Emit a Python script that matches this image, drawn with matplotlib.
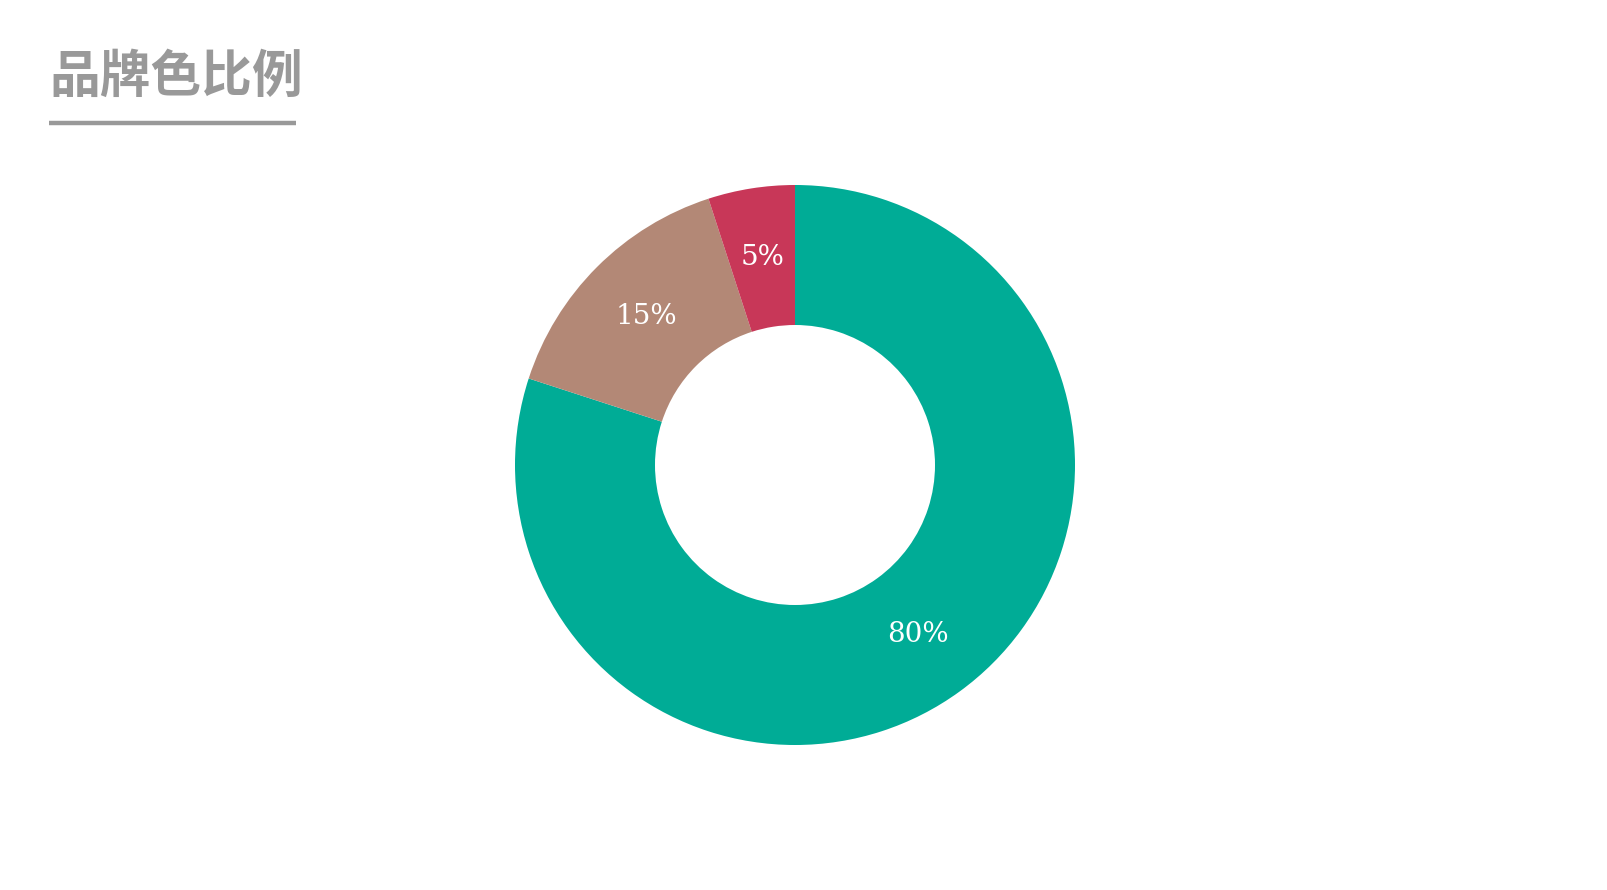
import matplotlib
matplotlib.use("Agg")
import matplotlib.pyplot as plt
from matplotlib.lines import Line2D

# data
labels = ["主色", "辅助色", "点缀色"]
shares = [80, 15, 5]
colors = ["#00AC96", "#B38876", "#C83758"]
title = "品牌色比例"

W, H = 1608, 890
fig = plt.figure(figsize=(W / 100, H / 100), dpi=100)

# donut: centre (795, 465) px, outer radius 280 px
cx, cy, r = 795, 465, 280
ax = fig.add_axes([(cx - r) / W, (H - cy - r) / H, 2 * r / W, 2 * r / H])
wedges, texts, autotexts = ax.pie(
    shares, colors=colors, startangle=90, counterclock=False,
    radius=1.0, autopct="%d%%", pctdistance=0.75,
    wedgeprops=dict(width=0.5, linewidth=0),
    textprops=dict(color="white", fontsize=20, family=["DejaVu Serif"]),
)
ax.set_xlim(-1, 1)
ax.set_ylim(-1, 1)
ax.set_aspect("equal")
ax.axis("off")

# title and underline
fig.text(49 / W, 1 - 52 / H, title, ha="left", va="top", fontsize=36.5,
         color="#999999", fontweight="bold", family=["Noto Sans CJK SC", "DejaVu Sans"])
fig.add_artist(Line2D([49 / W, 296 / W], [1 - 123 / H, 1 - 123 / H],
                      color="#999999", linewidth=3.2, solid_capstyle="butt",
                      transform=fig.transFigure))

fig.savefig("out.png", dpi=100, facecolor="white")
